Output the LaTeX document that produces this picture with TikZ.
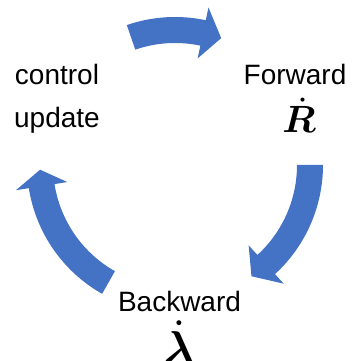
\documentclass[tikz,border=0pt]{standalone}
\usepackage{amsmath}
\usepackage{amssymb}
\usepackage{bm}
\usepackage{graphicx}
\usepackage{fontspec}
\setmainfont{Liberation Sans}
\usetikzlibrary{arrows.meta, positioning}
\definecolor{loopblue}{RGB}{68,114,196}

% block arrow on the loop: tail angle, head base angle, tip angle
\newcommand{\looparrow}[3]{%
  \fill[loopblue] ([shift={(#1:148pt)}]hub) arc[start angle=#1, end angle=#2, radius=148pt]
    -- ([shift={(#2:161pt)}]hub) -- ([shift={(#3:135pt)}]hub) -- ([shift={(#2:109pt)}]hub)
    -- ([shift={(#2:122pt)}]hub) arc[start angle=#2, end angle=#1, radius=122pt] -- cycle;}
% big bold symbol
\newcommand{\bigsym}[2]{\scalebox{#1}{$\bm{#2}$}}

\begin{document}
\begin{tikzpicture}[x=1pt, y=1pt,
    word/.style={font=\fontsize{28}{34}\selectfont, inner sep=0pt, anchor=base},
    sym/.style={inner sep=0pt, anchor=base}]
    \useasboundingbox (0,0) rectangle (351,361);
    \coordinate (hub) at (175,196);

    \looparrow{109}{78}{70}
    \looparrow{0}{-47.5}{-55.5}
    \looparrow{240.5}{189}{182}

    \node[word] (ctrl) at (57,276) {control};
    \node[word] (upd) at (57,233) {update};
    \node[word] (fwd) at (295,276) {Forward};
    \node[sym] (rdot) at (299,228) {\bigsym{3.8}{\dot{R}}};
    \node[word] (bwd) at (179.5,49) {Backward};
    \node[sym] (ldot) at (179,-3) {\bigsym{4.6}{\dot{\lambda}}};
\end{tikzpicture}
\end{document}
